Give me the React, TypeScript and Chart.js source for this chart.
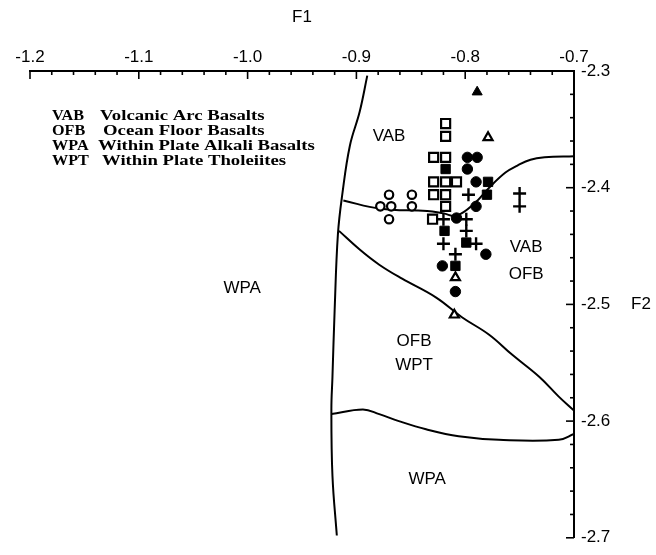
import React, { useEffect, useRef } from "react";
import { Chart, registerables } from "chart.js";

Chart.register(...registerables);

// Axis ranges and tick labels
const X_MIN = -1.2;
const X_MAX = -0.7;
const Y_MIN = -2.7;
const Y_MAX = -2.3;
const X_STEP = 0.1;
const Y_STEP = 0.1;
const MINOR_STEP = 0.02;

// Discriminant field boundaries (F1, F2)
const leftBoundaryX = [-0.890, -0.897, -0.906, -0.913, -0.917, -0.920, -0.922, -0.923, -0.922, -0.918];
const leftBoundaryY = [-2.304, -2.335, -2.364, -2.406, -2.440, -2.505, -2.562, -2.590, -2.647, -2.698];

const upperBoundaryX = [-0.912, -0.878, -0.835, -0.820, -0.808, -0.791, -0.778, -0.763, -0.752, -0.740, -0.727, -0.700];
const upperBoundaryY = [-2.411, -2.418, -2.420, -2.422, -2.424, -2.413, -2.400, -2.387, -2.381, -2.376, -2.374, -2.373];

const middleBoundaryX = [-0.916, -0.897, -0.879, -0.858, -0.827, -0.803, -0.778, -0.757, -0.732, -0.714, -0.700];
const middleBoundaryY = [-2.437, -2.453, -2.466, -2.478, -2.494, -2.511, -2.526, -2.543, -2.562, -2.579, -2.591];

const lowerBoundaryX = [-0.923, -0.894, -0.879, -0.861, -0.836, -0.806, -0.769, -0.714, -0.700];
const lowerBoundaryY = [-2.594, -2.590, -2.594, -2.600, -2.607, -2.613, -2.616, -2.616, -2.611];

// Samples
const filledTriangleX = [-0.789];
const filledTriangleY = [-2.318];

const openTriangleX = [-0.779, -0.809, -0.810];
const openTriangleY = [-2.357, -2.477, -2.509];

const openSquareX = [-0.818, -0.818, -0.829, -0.818, -0.829, -0.818, -0.808, -0.829, -0.818, -0.818, -0.830];
const openSquareY = [-2.345, -2.356, -2.374, -2.374, -2.395, -2.395, -2.395, -2.406, -2.406, -2.416, -2.427];

const filledSquareX = [-0.818, -0.779, -0.780, -0.819, -0.799, -0.809];
const filledSquareY = [-2.384, -2.395, -2.406, -2.437, -2.447, -2.467];

const filledCircleX = [-0.798, -0.789, -0.798, -0.790, -0.790, -0.808, -0.781, -0.821, -0.809];
const filledCircleY = [-2.374, -2.374, -2.384, -2.395, -2.416, -2.426, -2.457, -2.467, -2.489];

const openCircleX = [-0.870, -0.849, -0.878, -0.868, -0.849, -0.870];
const openCircleY = [-2.406, -2.406, -2.416, -2.416, -2.416, -2.427];

const plusX = [-0.797, -0.750, -0.750, -0.820, -0.799, -0.799, -0.820, -0.790, -0.809];
const plusY = [-2.406, -2.405, -2.416, -2.427, -2.427, -2.437, -2.448, -2.448, -2.457];

// Field labels (placed at F1, F2 values)
const fieldLabels = ["VAB", "VAB", "OFB", "WPA", "OFB", "WPT", "WPA"];
const fieldLabelX = [-0.870, -0.744, -0.744, -1.005, -0.847, -0.847, -0.835];
const fieldLabelY = [-2.356, -2.451, -2.474, -2.486, -2.532, -2.552, -2.650];

// Key
const keyAbbr = ["VAB", "OFB", "WPA", "WPT"];
const keyText = ["Volcanic Arc Basalts", "Ocean Floor Basalts", "Within Plate Alkali Basalts", "Within Plate Tholeiites"];

const zip = (xs: number[], ys: number[]) => xs.map((x, i) => ({ x, y: ys[i] }));

const decorPlugin = {
  id: "decor",
  afterDatasetsDraw(chart: any) {
    const { ctx, chartArea } = chart;
    const xs = chart.scales.x;
    const ys = chart.scales.y;
    ctx.save();
    ctx.strokeStyle = "#000";
    ctx.lineWidth = 1.6;
    // x ticks (pointing into plot)
    const nx = Math.round((X_MAX - X_MIN) / MINOR_STEP);
    for (let i = 0; i <= nx; i++) {
      const px = xs.getPixelForValue(X_MIN + i * MINOR_STEP);
      const len = i % 5 === 0 ? 8 : 4;
      ctx.beginPath();
      ctx.moveTo(px, chartArea.top);
      ctx.lineTo(px, chartArea.top + len);
      ctx.stroke();
    }
    const ny = Math.round((Y_MAX - Y_MIN) / MINOR_STEP);
    for (let i = 0; i <= ny; i++) {
      const py = ys.getPixelForValue(Y_MIN + i * MINOR_STEP);
      const len = i % 5 === 0 ? 8 : 4;
      ctx.beginPath();
      ctx.moveTo(chartArea.right, py);
      ctx.lineTo(chartArea.right - len, py);
      ctx.stroke();
    }
    // F2 title
    ctx.fillStyle = "#000";
    ctx.font = '17px "Liberation Sans", Arial, sans-serif';
    ctx.textAlign = "left";
    ctx.textBaseline = "middle";
    ctx.fillText("F2", chartArea.right + 57, ys.getPixelForValue(-2.5));
    // Field labels
    ctx.font = '17px "Liberation Sans", Arial, sans-serif';
    ctx.textAlign = "center";
    fieldLabels.forEach((t, i) => {
      ctx.fillText(t, xs.getPixelForValue(fieldLabelX[i]), ys.getPixelForValue(fieldLabelY[i]));
    });
    // Key
    ctx.font = 'bold 15px "Liberation Serif", "Times New Roman", serif';
    ctx.textAlign = "left";
    const descOffsets = [70, 73, 68, 72];
    keyAbbr.forEach((a, i) => {
      const yy = chartArea.top + 45 + i * 15;
      ctx.save();
      ctx.translate(chartArea.left + 22, yy);
      ctx.scale(1.08, 1);
      ctx.fillText(a, 0, 0);
      ctx.restore();
      ctx.save();
      ctx.translate(chartArea.left + descOffsets[i], yy);
      ctx.scale(1.25, 1);
      ctx.fillText(keyText[i], 0, 0);
      ctx.restore();
    });
    ctx.restore();
  },
};

export default function App() {
  const ref = useRef<HTMLCanvasElement>(null);
  useEffect(() => {
    const curve = (xs: number[], ys: number[]) => ({
      data: zip(xs, ys),
      showLine: true,
      borderColor: "#000",
      borderWidth: 2,
      pointRadius: 0,
      tension: 0.4,
      fill: false,
      order: 10,
    });
    const chart = new Chart(ref.current as HTMLCanvasElement, {
      type: "scatter",
      data: {
        datasets: [
          curve(leftBoundaryX, leftBoundaryY),
          curve(upperBoundaryX, upperBoundaryY),
          curve(middleBoundaryX, middleBoundaryY),
          curve(lowerBoundaryX, lowerBoundaryY),
          { data: zip(openCircleX, openCircleY), pointStyle: "circle", pointRadius: 4.2, backgroundColor: "#fff", borderColor: "#000", borderWidth: 2.2, order: 0 },
          { data: zip(openSquareX, openSquareY), pointStyle: "rect", pointRadius: 6.4, backgroundColor: "#fff", borderColor: "#000", borderWidth: 2.2, order: 0 },
          { data: zip(filledSquareX, filledSquareY), pointStyle: "rect", pointRadius: 6.6, backgroundColor: "#000", borderColor: "#000", borderWidth: 1, order: 0 },
          { data: zip(filledCircleX, filledCircleY), pointStyle: "circle", pointRadius: 5.2, backgroundColor: "#000", borderColor: "#000", borderWidth: 1, order: 0 },
          { data: zip(plusX, plusY), pointStyle: "cross", pointRadius: 6.5, backgroundColor: "#000", borderColor: "#000", borderWidth: 2.4, order: 0 },
          { data: zip(openTriangleX, openTriangleY), pointStyle: "triangle", pointRadius: 5.2, backgroundColor: "#fff", borderColor: "#000", borderWidth: 2.2, order: 0 },
          { data: zip(filledTriangleX, filledTriangleY), pointStyle: "triangle", pointRadius: 5.8, backgroundColor: "#000", borderColor: "#000", borderWidth: 1, order: 0 },
        ],
      } as any,
      options: {
        responsive: false,
        animation: false,
        devicePixelRatio: 1,
        layout: { padding: { left: 30, right: 0, top: 0, bottom: 13 } },
        plugins: { legend: { display: false }, tooltip: { enabled: false } },
        scales: {
          x: {
            type: "linear",
            position: "top",
            min: X_MIN,
            max: X_MAX,
            ticks: {
              stepSize: X_STEP,
              autoSkip: false,
              maxRotation: 0,
              padding: 3,
              color: "#000",
              font: { family: '"Liberation Sans", Arial, sans-serif', size: 17 },
              callback: (v: any) => Number(v).toFixed(1),
            },
            grid: { display: false, drawTicks: false },
            border: { display: true, color: "#000", width: 2 },
            title: {
              display: true,
              text: "F1",
              color: "#000",
              font: { family: '"Liberation Sans", Arial, sans-serif', size: 17 },
              padding: { top: 7, bottom: 0 },
            },
            afterFit: (s: any) => { s.height = 71; },
          },
          y: {
            type: "linear",
            position: "right",
            min: Y_MIN,
            max: Y_MAX,
            ticks: {
              stepSize: Y_STEP,
              autoSkip: false,
              padding: 7,
              color: "#000",
              font: { family: '"Liberation Sans", Arial, sans-serif', size: 17 },
              callback: (v: any) => Number(v).toFixed(1),
            },
            grid: { display: false, drawTicks: false },
            border: { display: true, color: "#000", width: 2 },
            afterFit: (s: any) => { s.width = 82; },
          },
        },
      } as any,
      plugins: [decorPlugin],
    });
    return () => chart.destroy();
  }, []);
  return (
    <div style={{ position: "absolute", left: 0, top: 0, width: 656, height: 555, background: "#fff" }}>
      <canvas ref={ref} width={656} height={555} style={{ width: 656, height: 555, display: "block" }} />
    </div>
  );
}
